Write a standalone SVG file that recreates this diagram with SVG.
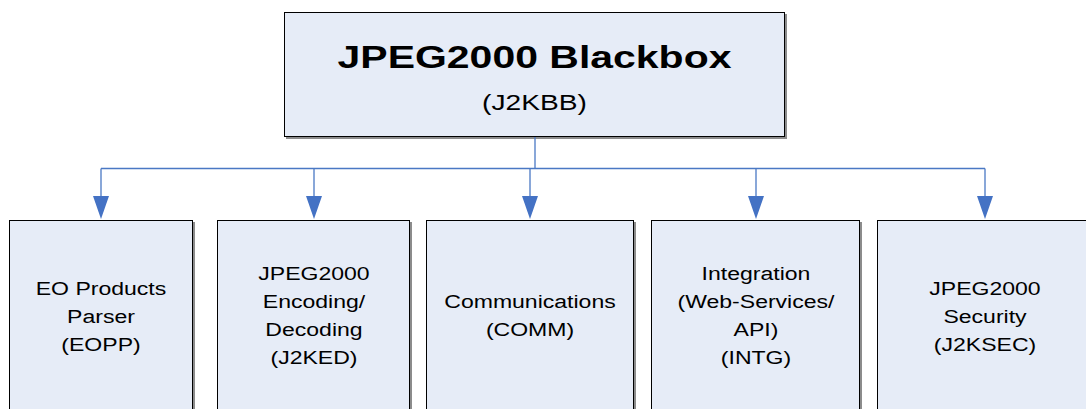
<svg xmlns="http://www.w3.org/2000/svg" width="1086" height="409" viewBox="0 0 1086 409">
  <style>
    .box { fill: #E6ECF7; stroke: #000000; stroke-width: 1; }
    .shadow { fill: #8C8C8C; }
    .lbl { font-family: "Liberation Sans", Arial, sans-serif; font-size: 18px; fill: #000000; text-anchor: middle; }
    .title { font-family: "Liberation Sans", Arial, sans-serif; font-size: 32px; font-weight: bold; fill: #000000; text-anchor: middle; }
    .sub { font-family: "Liberation Sans", Arial, sans-serif; font-size: 22px; fill: #000000; text-anchor: middle; }
    .wire { fill: none; stroke: #4A78C4; stroke-width: 1.3; }
  </style>
  <defs>
    <marker id="arrow" markerWidth="16" markerHeight="23" refX="8" refY="23" orient="auto-start-reverse" markerUnits="userSpaceOnUse" viewBox="0 0 16 23">
      <path d="M0,0 L16,0 L8,23 Z" fill="#4472C4"/>
    </marker>
  </defs>

  <rect width="1086" height="409" fill="#FFFFFF"/>

  <!-- root -->
  <g id="j2kbb">
    <rect class="shadow" x="286" y="14" width="501" height="125"/>
    <rect class="box" x="284.5" y="12.5" width="500" height="124"/>
    <text class="title" transform="translate(534.5,68) scale(1.28,1)" x="0" y="0">JPEG2000 Blackbox</text>
    <text class="sub" transform="translate(534.5,110) scale(1.28,1)" x="0" y="0">(J2KBB)</text>
  </g>

  <!-- connectors -->
  <g id="connectors">
    <path class="wire" d="M535,137 V168.5"/>
    <path class="wire" d="M101,168.5 H985"/>
    <path class="wire" d="M101,168.5 V196"/>
    <path class="wire" d="M314,168.5 V196"/>
    <path class="wire" d="M530,168.5 V196"/>
    <path class="wire" d="M756,168.5 V196"/>
    <path class="wire" d="M985,168.5 V196"/>
    <path d="M93,196 H109 L101,219 Z" fill="#4472C4"/>
    <path d="M306,196 H322 L314,219 Z" fill="#4472C4"/>
    <path d="M522,196 H538 L530,219 Z" fill="#4472C4"/>
    <path d="M748,196 H764 L756,219 Z" fill="#4472C4"/>
    <path d="M977,196 H993 L985,219 Z" fill="#4472C4"/>
  </g>

  <!-- children -->
  <g id="eopp">
    <rect class="shadow" x="11" y="222" width="184" height="200"/>
    <rect class="box" x="9.5" y="220.5" width="183" height="200"/>
    <g transform="translate(101,0) scale(1.28,1)">
      <text class="lbl" x="0" y="295">EO Products</text>
      <text class="lbl" x="0" y="323">Parser</text>
      <text class="lbl" x="0" y="351">(EOPP)</text>
    </g>
  </g>

  <g id="j2ked">
    <rect class="shadow" x="219" y="222" width="193" height="200"/>
    <rect class="box" x="217.5" y="220.5" width="192" height="200"/>
    <g transform="translate(314,0) scale(1.28,1)">
      <text class="lbl" x="0" y="280">JPEG2000</text>
      <text class="lbl" x="0" y="308">Encoding/</text>
      <text class="lbl" x="0" y="336">Decoding</text>
      <text class="lbl" x="0" y="364">(J2KED)</text>
    </g>
  </g>

  <g id="comm">
    <rect class="shadow" x="428" y="222" width="208" height="200"/>
    <rect class="box" x="426.5" y="220.5" width="207" height="200"/>
    <g transform="translate(530,0) scale(1.28,1)">
      <text class="lbl" x="0" y="308">Communications</text>
      <text class="lbl" x="0" y="336">(COMM)</text>
    </g>
  </g>

  <g id="intg">
    <rect class="shadow" x="653" y="222" width="209" height="200"/>
    <rect class="box" x="651.5" y="220.5" width="208" height="200"/>
    <g transform="translate(756,0) scale(1.28,1)">
      <text class="lbl" x="0" y="280">Integration</text>
      <text class="lbl" x="0" y="308">(Web-Services/</text>
      <text class="lbl" x="0" y="336">API)</text>
      <text class="lbl" x="0" y="364">(INTG)</text>
    </g>
  </g>

  <g id="j2ksec">
    <rect class="shadow" x="879" y="222" width="218" height="200"/>
    <rect class="box" x="877.5" y="220.5" width="217" height="200"/>
    <g transform="translate(985,0) scale(1.28,1)">
      <text class="lbl" x="0" y="295">JPEG2000</text>
      <text class="lbl" x="0" y="323">Security</text>
      <text class="lbl" x="0" y="351">(J2KSEC)</text>
    </g>
  </g>
</svg>
